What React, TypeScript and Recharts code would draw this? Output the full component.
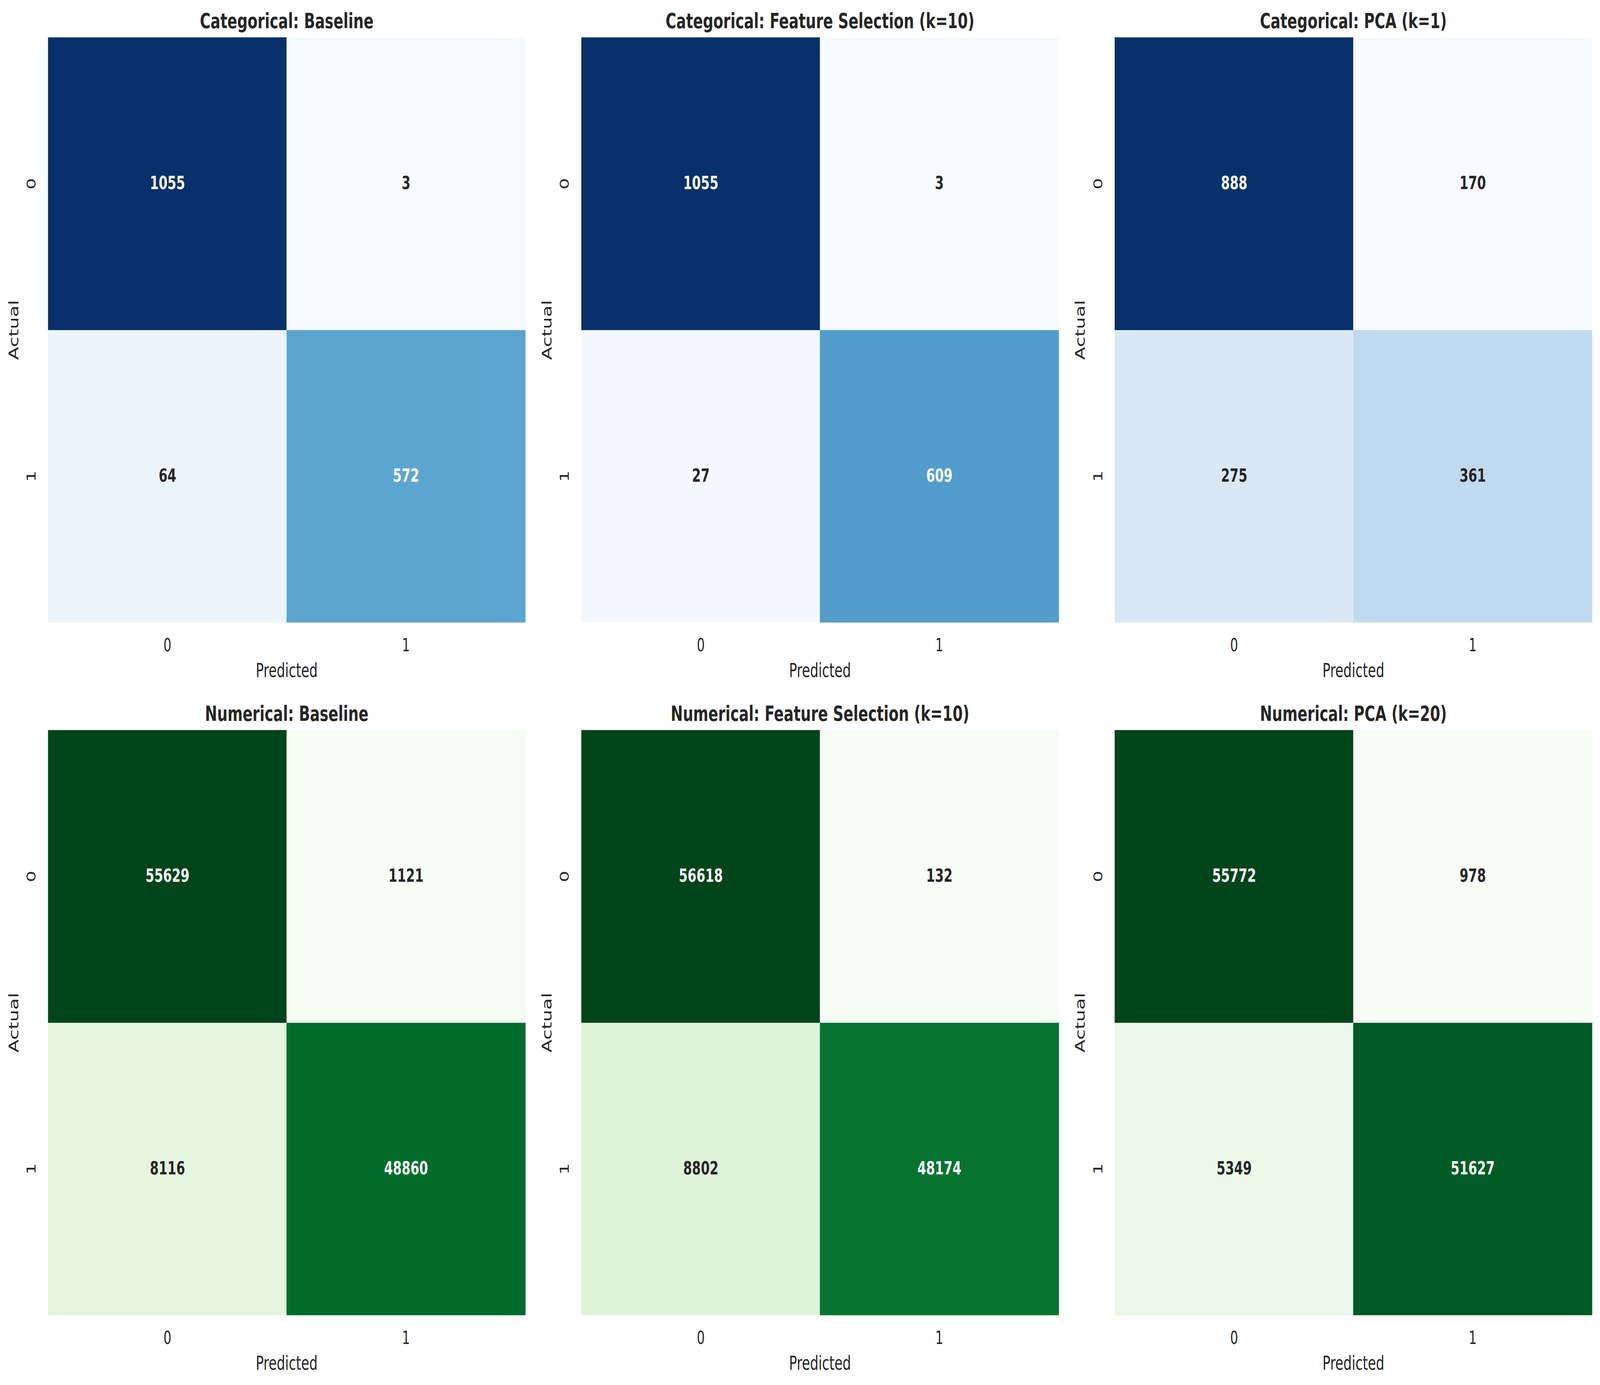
import { BarChart, Bar, Cell, XAxis, YAxis, LabelList, Label } from 'recharts';

// confusion matrices: [actual 0 row, actual 1 row], each row = [pred 0, pred 1]
const predictedLabels = ['0', '1'];
const actualLabels = ['0', '1'];

const catBaseline = [[1055, 3], [64, 572]];
const catFeatureSel = [[1055, 3], [27, 609]];
const catPca = [[888, 170], [275, 361]];
const numBaseline = [[55629, 1121], [8116, 48860]];
const numFeatureSel = [[56618, 132], [8802, 48174]];
const numPca = [[55772, 978], [5349, 51627]];

const panelTitles = [
  'Categorical: Baseline',
  'Categorical: Feature Selection (k=10)',
  'Categorical: PCA (k=1)',
  'Numerical: Baseline',
  'Numerical: Feature Selection (k=10)',
  'Numerical: PCA (k=20)',
];

// matplotlib Blues / Greens anchors
const BLUES = ['#f7fbff', '#deebf7', '#c6dbef', '#9ecae1', '#6baed6', '#4292c6', '#2171b5', '#08519c', '#08306b'];
const GREENS = ['#f7fcf5', '#e5f5e0', '#c7e9c0', '#a1d99b', '#74c476', '#41ab5d', '#238b45', '#006d2c', '#00441b'];

const FONT = '"DejaVu Sans", sans-serif';
const TEXT = '#262626';

const FIG_W = 5946;
const FIG_H = 3545;
const PLOT_W = 1773;
const PLOT_H = 1497;
const LEFT = 179;
const TOP = 96;
const RIGHT = 30;
const BOTTOM = 179;
const COL_X = [0, 1982, 3964];
const ROW_Y = [0, 1773];

const hexToRgb = (h: string) => [1, 3, 5].map(i => parseInt(h.slice(i, i + 2), 16));

function sampleCmap(stops: string[], t: number) {
  const idx = Math.min(255, Math.max(0, Math.floor(t * 256)));
  const pos = (idx / 255) * (stops.length - 1);
  const i = Math.min(stops.length - 2, Math.floor(pos));
  const f = pos - i;
  const a = hexToRgb(stops[i]);
  const b = hexToRgb(stops[i + 1]);
  return a.map((v, k) => v + (b[k] - v) * f);
}

function luminance(rgb: number[]) {
  const lin = rgb.map(c => {
    const s = c / 255;
    return s <= 0.03928 ? s / 12.92 : Math.pow((s + 0.055) / 1.055, 2.4);
  });
  return 0.2126 * lin[0] + 0.7152 * lin[1] + 0.0722 * lin[2];
}

const rgbStr = (rgb: number[]) => `rgb(${rgb.map(v => Math.round(v)).join(',')})`;

function Heatmap({ matrix, stops, left, top }: { matrix: number[][]; stops: string[]; left: number; top: number }) {
  const all = matrix.flat();
  const lo = Math.min(...all);
  const hi = Math.max(...all);
  const colorOf = (v: number) => sampleCmap(stops, (v - lo) / (hi - lo));

  const data = predictedLabels.map((p, j) => ({
    pred: p,
    top: 1,
    bottom: 1,
    topCount: matrix[0][j],
    bottomCount: matrix[1][j],
  }));

  const renderCount = (props: any) => {
    const { x, y, width, height, value } = props;
    const txt = luminance(colorOf(value)) > 0.408 ? TEXT : '#ffffff';
    return (
      <text
        x={x + width / 2}
        y={y + height / 2 + 14}
        textAnchor="middle"
        fontFamily={FONT}
        fontWeight="bold"
        fontSize={47}
        fill={txt}
      >
        {value}
      </text>
    );
  };

  const XTick = ({ x, y, payload }: any) => (
    <text x={x} y={y + 74} textAnchor="middle" fontFamily={FONT} fontSize={46} fill={TEXT}>
      {payload.value}
    </text>
  );

  const YTick = ({ x, y, payload }: any) => (
    <text
      x={x}
      y={y}
      transform={`rotate(-90, ${x}, ${y})`}
      textAnchor="middle"
      fontFamily={FONT}
      fontSize={46}
      fill={TEXT}
    >
      {payload.value > 1 ? actualLabels[0] : actualLabels[1]}
    </text>
  );

  const xLabel = ({ viewBox }: any) => (
    <text
      x={viewBox.x + viewBox.width / 2}
      y={viewBox.y + 140}
      textAnchor="middle"
      fontFamily={FONT}
      fontSize={49}
      fill={TEXT}
    >
      Predicted
    </text>
  );

  const yLabel = ({ viewBox }: any) => {
    const cx = viewBox.x + 68;
    const cy = viewBox.y + viewBox.height / 2;
    return (
      <text
        x={cx}
        y={cy}
        transform={`rotate(-90, ${cx}, ${cy})`}
        textAnchor="middle"
        fontFamily={FONT}
        fontSize={49}
        fill={TEXT}
      >
        Actual
      </text>
    );
  };

  return (
    <div style={{ position: 'absolute', left, top }}>
      <BarChart
        width={LEFT + PLOT_W + RIGHT}
        height={TOP + PLOT_H + BOTTOM}
        data={data}
        margin={{ top: TOP, right: RIGHT, bottom: 0, left: 0 }}
        barCategoryGap={0}
        barGap={0}
      >
        <XAxis
          dataKey="pred"
          type="category"
          height={BOTTOM}
          axisLine={false}
          tickLine={false}
          tickSize={0}
          tickMargin={0}
          interval={0}
          tick={<XTick />}
        >
          <Label content={xLabel} />
        </XAxis>
        <YAxis
          type="number"
          domain={[0, 2]}
          ticks={[0.5, 1.5]}
          width={LEFT}
          axisLine={false}
          tickLine={false}
          tickSize={0}
          tickMargin={47}
          tick={<YTick />}
        >
          <Label content={yLabel} />
        </YAxis>
        <Bar dataKey="bottom" stackId="cm" isAnimationActive={false}>
          {data.map((d, i) => {
            const c = rgbStr(colorOf(d.bottomCount));
            return <Cell key={`b-${i}`} fill={c} stroke={c} strokeWidth={1} />;
          })}
          <LabelList dataKey="bottomCount" content={renderCount} isAnimationActive={false} />
        </Bar>
        <Bar dataKey="top" stackId="cm" isAnimationActive={false}>
          {data.map((d, i) => {
            const c = rgbStr(colorOf(d.topCount));
            return <Cell key={`t-${i}`} fill={c} stroke={c} strokeWidth={1} />;
          })}
          <LabelList dataKey="topCount" content={renderCount} isAnimationActive={false} />
        </Bar>
      </BarChart>
    </div>
  );
}

export default function App() {
  const panels = [
    { m: catBaseline, s: BLUES },
    { m: catFeatureSel, s: BLUES },
    { m: catPca, s: BLUES },
    { m: numBaseline, s: GREENS },
    { m: numFeatureSel, s: GREENS },
    { m: numPca, s: GREENS },
  ];

  // the real viewport can be narrower than the figure; stretch the figure onto it
  const vw = typeof window !== 'undefined' ? window.innerWidth : FIG_W;
  const vh = typeof window !== 'undefined' ? window.innerHeight : FIG_H;
  const sx = Math.min(1, vw / FIG_W);
  const sy = Math.min(1, vh / FIG_H);

  return (
    <div
      style={{
        position: 'absolute',
        left: 0,
        top: 0,
        width: FIG_W * sx,
        height: FIG_H * sy,
        overflow: 'hidden',
        background: '#ffffff',
      }}
    >
      <div
        style={{
          position: 'absolute',
          left: 0,
          top: 0,
          width: FIG_W,
          height: FIG_H,
          background: '#ffffff',
          fontFamily: FONT,
          transform: `scale(${sx}, ${sy})`,
          transformOrigin: '0 0',
        }}
      >
        {panels.map((p, k) => (
          <Heatmap
            key={k}
            matrix={p.m}
            stops={p.s}
            left={COL_X[k % 3]}
            top={ROW_Y[Math.floor(k / 3)]}
          />
        ))}
        <svg width={FIG_W} height={FIG_H} style={{ position: 'absolute', left: 0, top: 0, pointerEvents: 'none' }}>
          {panelTitles.map((t, k) => (
            <text
              key={t}
              x={COL_X[k % 3] + LEFT + PLOT_W / 2}
              y={ROW_Y[Math.floor(k / 3)] + TOP - 24}
              textAnchor="middle"
              fontFamily={FONT}
              fontWeight="bold"
              fontSize={54}
              fill={TEXT}
            >
              {t}
            </text>
          ))}
        </svg>
      </div>
    </div>
  );
}
